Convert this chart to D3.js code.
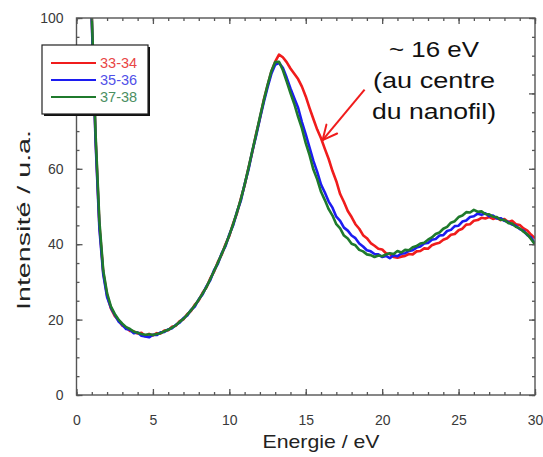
<!DOCTYPE html>
<html><head><meta charset="utf-8">
<script src="https://cdn.jsdelivr.net/npm/d3@7"></script>
<style>body{margin:0;background:#fff;} svg{display:block;font-family:"Liberation Sans",Arial,sans-serif;}</style>
</head><body>
<svg id="c" width="543" height="457"></svg>
<script>
// ---- data ----
const energies = [0.8,1.0,1.25,1.5,1.75,2.0,2.25,2.5,2.75,3.0,3.25,3.5,3.75,4.0,4.25,4.5,4.75,5.0,5.25,5.5,5.75,6.0,6.25,6.5,6.75,7.0,7.25,7.5,7.75,8.0,8.25,8.5,8.75,9.0,9.25,9.5,9.75,10.0,10.25,10.5,10.75,11.0,11.25,11.5,11.75,12.0,12.25,12.5,12.75,13.0,13.25,13.5,13.75,14.0,14.25,14.5,14.75,15.0,15.25,15.5,15.75,16.0,16.25,16.5,16.75,17.0,17.25,17.5,17.75,18.0,18.25,18.5,18.75,19.0,19.25,19.5,19.75,20.0,20.25,20.5,20.75,21.0,21.25,21.5,21.75,22.0,22.25,22.5,22.75,23.0,23.25,23.5,23.75,24.0,24.25,24.5,24.75,25.0,25.25,25.5,25.75,26.0,26.25,26.5,26.75,27.0,27.25,27.5,27.75,28.0,28.25,28.5,28.75,29.0,29.25,29.5,29.75,30.0];
const series33 = [140,100,68,45,32.5,26.5,23,21,19.8,18.4,17.9,17,16.9,16.3,16.5,15.6,16.2,15.8,16.4,16.3,17.1,17.2,18.1,18.4,19.6,20.1,21.5,22.3,24,25.1,27.1,28.5,30.9,32.7,35.3,37.2,40,42.2,45.5,48.2,52,55.6,60.2,64.4,69.2,73.4,78.2,82.1,85.8,88.4,90.3,89.6,88.3,86.6,85.2,83.8,81.8,79.2,76.1,73.2,70.4,68.1,65.3,62.6,59.4,56.7,53.3,51.2,48.8,47.2,45.3,44.1,42.4,41.6,40.3,39.6,38.8,38.6,37.6,37.4,36.6,36.4,36.7,36.9,37.4,37.3,38.1,38.2,38.9,38.8,39.7,40.1,40.4,41.2,41.6,42.5,42.7,43.7,44.1,45.2,45.3,46.2,46.4,47,46.8,47.2,46.7,47,46.4,46.7,45.9,46.2,45.3,45.1,44.2,43.6,42.5,41.6];
const series35 = [140,99,67,44,32,26,23.2,21.3,19.5,18.6,17.5,17.3,16.4,16.6,15.7,15.5,15.3,16,15.9,16.6,16.7,17.4,17.7,18.6,19.2,20.4,21.1,22.6,23.5,25.4,26.7,28.8,30.4,33.1,34.8,37.6,39.5,42.6,45,48.6,51.5,55.9,59.7,64.6,68.7,73.3,77.6,81.6,85.2,87.6,88.1,86.8,84.2,81.3,78.7,76.2,72.4,69.1,65.6,62.1,59.2,55.8,53.7,51.3,49.7,47.3,46.2,44.4,43.6,42.3,41.6,40.2,39.4,38.4,38.1,37.4,37.3,36.6,36.9,36.3,37.1,36.8,37.5,37.6,38.2,38.4,39.1,39.4,40.2,40.3,41.2,41.4,42.3,42.4,43.5,43.8,44.8,44.9,46,46.3,47.2,47.4,48.1,47.8,48.2,47.4,47.6,46.8,46.9,46.2,45.9,45.2,44.9,44,43.6,42.4,41.8,40];
const series37 = [140,101,69,46,33,27,23.5,21.5,20,18.9,18,17.5,16.8,16.5,16.2,16,16.1,15.9,16.2,16.4,16.9,17.3,17.9,18.5,19.4,20.2,21.3,22.5,23.8,25.3,26.9,28.6,30.7,32.9,35.1,37.4,39.8,42.4,45.3,48.5,51.9,55.8,60.1,64.7,69.1,73.7,78.1,82.2,85.9,88.3,88.4,86.2,83.2,80.1,77.2,73.8,70.7,66.8,63.6,59.8,57.2,53.9,51.7,49.3,47.6,45.3,44.2,42.3,41.5,40.1,39.7,38.5,38.1,37.3,37.1,36.6,37,36.8,37.3,37.6,37.4,38.2,37.8,38.5,38.4,39.2,39.5,40.2,40.4,41.2,41.8,42.7,43.1,44.1,44.6,45.7,46.1,47.2,47.6,48.5,48.4,49.1,48.6,48.7,48,47.9,47.3,47.2,46.5,46.4,45.6,45.5,44.6,44.2,43.3,42.6,41.3,39.9];
const seriesNames = ["33-34","35-36","37-38"];
const seriesColors = ["#f01c1c","#1c1cf0","#1f7a2c"];
const legendTextColors = ["#e84545","#5050e8","#4a8f62"];
const xTickLabels = [0,5,10,15,20,25,30];
const yTickLabels = [0,20,40,60,80,100];
const annotationLines = ["~ 16 eV","(au centre","du nanofil)"];
const arrowTip = [16.1, 67.6];
const arrowTail = [18.85, 81];

// ---- chart ----
const svg = d3.select("#c");
const x = d3.scaleLinear().domain([0,30]).range([76.5,535]);
const y = d3.scaleLinear().domain([0,100]).range([395,18]);
const axisColor = "#555";

svg.append("defs").append("clipPath").attr("id","clip")
  .append("rect").attr("x",76.5).attr("y",18).attr("width",535-76.5).attr("height",395-18);

const allSeries = [series33, series35, series37];
const line = d3.line().x((d,i)=>x(energies[i])).y(d=>y(d));
const g = svg.append("g").attr("clip-path","url(#clip)");
allSeries.forEach((s,k)=>{
  g.append("path").datum(s).attr("d",line).attr("fill","none")
    .attr("stroke",seriesColors[k]).attr("stroke-width",2.6).attr("stroke-linejoin","round");
});

// axes
function styleAxis(sel){
  sel.select(".domain").remove();
  sel.selectAll(".tick line").attr("stroke",axisColor).attr("stroke-width",1.3);
  sel.selectAll(".tick text").attr("fill","#3a3a3a").attr("font-size",14)
    .attr("font-family","'Liberation Sans',Arial,sans-serif");
}
const minorX = d3.range(0,31,1), minorY = d3.range(0,101,5);
svg.append("g").attr("transform","translate(0,395)")
  .call(d3.axisBottom(x).tickValues(minorX).tickSize(-3).tickFormat("")).call(styleAxis);
svg.append("g").attr("transform","translate(0,395)")
  .call(d3.axisBottom(x).tickValues(xTickLabels).tickSize(-6).tickPadding(20).tickFormat(d3.format("d"))).call(styleAxis);
svg.append("g").attr("transform","translate(0,18)")
  .call(d3.axisTop(x).tickValues(minorX).tickSize(-3).tickFormat("")).call(styleAxis);
svg.append("g").attr("transform","translate(0,18)")
  .call(d3.axisTop(x).tickValues(xTickLabels).tickSize(-6).tickFormat("")).call(styleAxis);
svg.append("g").attr("transform","translate(76.5,0)")
  .call(d3.axisLeft(y).tickValues(minorY).tickSize(-3).tickFormat("")).call(styleAxis);
svg.append("g").attr("transform","translate(76.5,0)")
  .call(d3.axisLeft(y).tickValues(yTickLabels).tickSize(-6).tickPadding(13).tickFormat(d3.format("d"))).call(styleAxis);
svg.append("g").attr("transform","translate(535,0)")
  .call(d3.axisRight(y).tickValues(minorY).tickSize(-3).tickFormat("")).call(styleAxis);
svg.append("g").attr("transform","translate(535,0)")
  .call(d3.axisRight(y).tickValues(yTickLabels).tickSize(-6).tickFormat("")).call(styleAxis);

svg.append("rect").attr("x",76.5).attr("y",18).attr("width",535-76.5).attr("height",395-18)
  .attr("fill","none").attr("stroke",axisColor).attr("stroke-width",1.4);

// axis titles
svg.append("text").attr("x",321).attr("y",448).attr("text-anchor","middle")
  .attr("font-size",19).attr("fill","#222").attr("textLength",117).attr("lengthAdjust","spacingAndGlyphs")
  .text("Energie / eV");
svg.append("text").attr("transform","translate(30,220) rotate(-90)").attr("text-anchor","middle")
  .attr("font-size",19).attr("fill","#222").attr("textLength",180).attr("lengthAdjust","spacingAndGlyphs")
  .text("Intensité / u.a.");

// legend
const lg = svg.append("g");
lg.append("rect").attr("x",44).attr("y",47).attr("width",106).attr("height",69).attr("fill","#111");
lg.append("rect").attr("x",42).attr("y",45).attr("width",106).attr("height",69)
  .attr("fill","#fff").attr("stroke","#222").attr("stroke-width",1.2);
seriesNames.forEach((n,k)=>{
  const yy = 63 + k*17;
  lg.append("line").attr("x1",51).attr("x2",96).attr("y1",yy).attr("y2",yy)
    .attr("stroke",seriesColors[k]).attr("stroke-width",2.2);
  lg.append("text").attr("x",100).attr("y",yy+5).attr("font-size",14.5)
    .attr("fill",legendTextColors[k]).text(n);
});

// annotation
const tip=[x(arrowTip[0]),y(arrowTip[1])], tail=[x(arrowTail[0]),y(arrowTail[1])];
const ang = Math.atan2(tail[1]-tip[1], tail[0]-tip[0]);
const ah = 16, spread = 0.45;
svg.append("line").attr("x1",tail[0]).attr("y1",tail[1]).attr("x2",tip[0]).attr("y2",tip[1])
  .attr("stroke","#f01c1c").attr("stroke-width",2);
[ang-spread, ang+spread].forEach(a=>{
  svg.append("line").attr("x1",tip[0]).attr("y1",tip[1])
    .attr("x2",tip[0]+ah*Math.cos(a)).attr("y2",tip[1]+ah*Math.sin(a))
    .attr("stroke","#f01c1c").attr("stroke-width",2).attr("stroke-linecap","round");
});
const annLens = [90,122,124];
annotationLines.forEach((t,i)=>{
  svg.append("text").attr("x",434).attr("y",57+i*31).attr("text-anchor","middle")
    .attr("font-size",22).attr("fill","#111")
    .attr("textLength",annLens[i]).attr("lengthAdjust","spacingAndGlyphs").text(t);
});
</script>
</body></html>
